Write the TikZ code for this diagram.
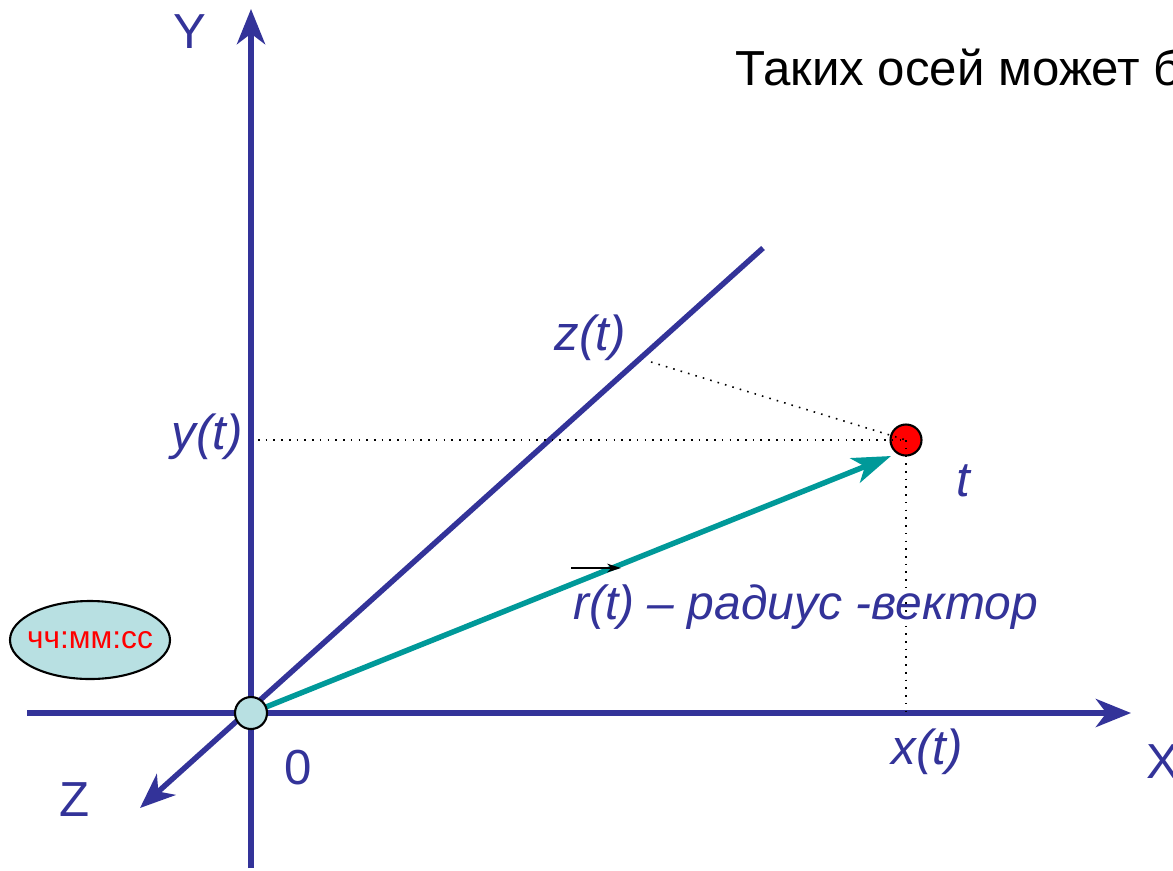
\documentclass[tikz,border=0pt]{standalone}
\usepackage{fontspec}
\setmainfont{Liberation Sans}
\usetikzlibrary{arrows.meta, calc, shapes.geometric}

\definecolor{axisblue}{RGB}{51,51,153}
\definecolor{vecteal}{RGB}{0,153,153}
\definecolor{pale}{RGB}{184,224,226}

\begin{document}
\begin{tikzpicture}[x=0.02cm, y=-0.02cm,
    axis/.style={draw=axisblue, line width=3.1pt, -{Stealth[length=20pt, width=16pt, inset=6pt]}},
    proj/.style={draw=black, line width=0.9pt, dash pattern=on 0.9pt off 3.5pt},
    lbl/.style={text=axisblue, font=\fontsize{28}{32}\selectfont},
    ilbl/.style={text=axisblue, font=\fontsize{28}{32}\selectfont\itshape}]
    \useasboundingbox (0,0) rectangle (1173,870);
    \clip (0,0) rectangle (1173,870);

    \coordinate (O) at (251,713);
    \coordinate (Xs) at (27,713);
    \coordinate (Xe) at (1131,713);
    \coordinate (Ys) at (251,868);
    \coordinate (Ye) at (251,9);
    \coordinate (Zs) at (763,248);
    \coordinate (Ze) at (140,808);
    \coordinate (Zp) at (651,362);
    \coordinate (Rs) at (571,568);
    \coordinate (Re) at (621,568);

    % axes
    \draw[axis] (Xs) -- (Xe);
    \draw[axis] (Ys) -- (Ye);
    \draw[axis] (Zs) -- (Ze);

    % point and radius vector
    \node[circle, draw, line width=1.2pt, fill=red, minimum size=31*0.02cm, inner sep=0pt] (P) at (906,440) {};
    \draw[vecteal, line width=3.1pt, -{Stealth[length=22pt, width=15pt, inset=6pt]}] (O) -- ($(P.center)+(-15,16)$);
    \draw[proj] (258,440) -- (P.center);
    \draw[proj] (P.center) -- (906,713);
    \draw[proj] (Zp) -- (P.center);
    \node[circle, draw, line width=1.2pt, fill=pale, minimum size=32*0.02cm, inner sep=0pt] (orig) at (O) {};

    % small arrow over r(t)
    \draw[black, line width=1pt, -{Stealth[length=8pt, width=5pt]}] (Rs) -- (Re);

    % labels
    \node[lbl] (ly) at (190,32) {Y};
    \node[lbl] (lx) at (1163,762) {X};
    \node[lbl] (lz) at (75,800) {Z};
    \node[lbl] (l0) at (298,768) {0};
    \node[ilbl] (lzt) at (590,338) {z(t)};
    \node[ilbl] (lyt) at (207,437) {y(t)};
    \node[ilbl] (lxt) at (927,752) {x(t)};
    \node[ilbl] (lt) at (963,481) {t};
    \node[ilbl, anchor=west, inner sep=0pt, font=\fontsize{27.3}{32}\selectfont\itshape] (lr) at (573,607) {r(t) – радиус -вектор};
    \node[anchor=base west, inner sep=0pt, font=\fontsize{28}{32}\selectfont] (head) at (735,85) {Таких осей может быть};

    % clock
    \node[ellipse, draw, line width=1.2pt, fill=pale, inner sep=0pt, minimum width=160*0.02cm, minimum height=78*0.02cm] (clock) at (90,640) {};
    \node[text=red, font=\fontsize{18}{22}\selectfont] (clocktxt) at (clock) {чч:мм:сс};
\end{tikzpicture}
\end{document}
